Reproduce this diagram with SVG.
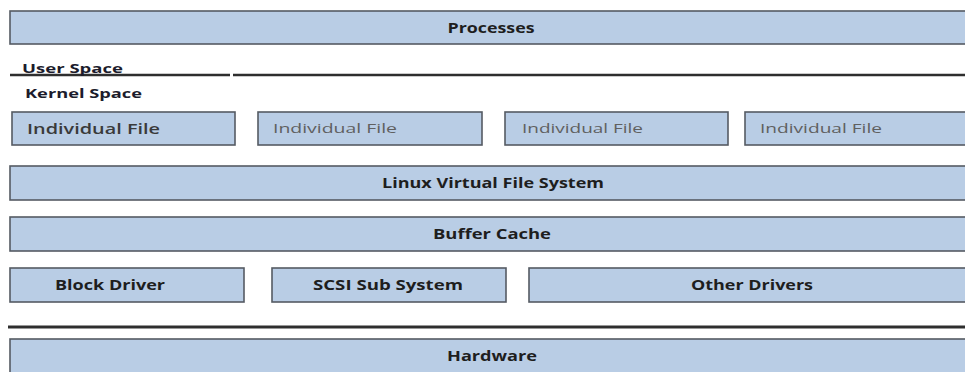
<svg xmlns="http://www.w3.org/2000/svg" width="965" height="372" viewBox="0 0 965 372">
  <defs>
    <style>
      .box { fill: #b9cde5; stroke: #555b63; stroke-width: 1.6; }
      .b { font-family: "Open Sans", "Liberation Sans", sans-serif; font-weight: bold; font-size: 14px; fill: #1e1e1e; text-anchor: middle; }
      .lbl { font-family: "Open Sans", "Liberation Sans", sans-serif; font-weight: bold; font-size: 13px; fill: #1c1c2c; }
      .f1 { font-family: "Open Sans", "Liberation Sans", sans-serif; font-size: 14.5px; fill: #3a3a3a; font-weight: 600; }
      .f2 { font-family: "Open Sans", "Liberation Sans", sans-serif; font-size: 13px; fill: #606060; }
      .sep { stroke: #2e2e2e; stroke-width: 2.5; fill: none; }
    </style>
  </defs>
  <rect width="965" height="372" fill="#ffffff"/>

  <g id="processes">
    <rect class="box" x="10" y="11" width="962" height="33"/>
    <text class="b" x="491" y="33" textLength="87" lengthAdjust="spacingAndGlyphs">Processes</text>
  </g>

  <g id="separators">
    <line class="sep" x1="10" y1="75" x2="230" y2="75"/>
    <line class="sep" x1="233" y1="75" x2="967" y2="75"/>
    <line class="sep" x1="8" y1="327" x2="967" y2="327" style="stroke-width:3"/>
  </g>

  <g id="user-space">
    <text class="lbl" x="22" y="73" textLength="101" lengthAdjust="spacingAndGlyphs">User Space</text>
  </g>
  <g id="kernel-space">
    <text class="lbl" x="25" y="98" textLength="117" lengthAdjust="spacingAndGlyphs">Kernel Space</text>
  </g>

  <g id="file1">
    <rect class="box" x="12" y="112" width="223" height="33"/>
    <text class="f1" x="27" y="134" textLength="133" lengthAdjust="spacingAndGlyphs">Individual File</text>
  </g>
  <g id="file2">
    <rect class="box" x="258" y="112" width="224" height="33"/>
    <text class="f2" x="273" y="133" textLength="124" lengthAdjust="spacingAndGlyphs">Individual File</text>
  </g>
  <g id="file3">
    <rect class="box" x="505" y="112" width="223" height="33"/>
    <text class="f2" x="522" y="133" textLength="121" lengthAdjust="spacingAndGlyphs">Individual File</text>
  </g>
  <g id="file4">
    <rect class="box" x="745" y="112" width="225" height="33"/>
    <text class="f2" x="760" y="133" textLength="122" lengthAdjust="spacingAndGlyphs">Individual File</text>
  </g>

  <g id="vfs">
    <rect class="box" x="10" y="166" width="962" height="34"/>
    <text class="b" x="493" y="188" textLength="222" lengthAdjust="spacingAndGlyphs">Linux Virtual File System</text>
  </g>

  <g id="buffer-cache">
    <rect class="box" x="10" y="217" width="962" height="34"/>
    <text class="b" x="492" y="239" textLength="118" lengthAdjust="spacingAndGlyphs">Buffer Cache</text>
  </g>

  <g id="block-driver">
    <rect class="box" x="10" y="268" width="234" height="34"/>
    <text class="b" x="110" y="290" textLength="110" lengthAdjust="spacingAndGlyphs">Block Driver</text>
  </g>
  <g id="scsi">
    <rect class="box" x="272" y="268" width="234" height="34"/>
    <text class="b" x="388" y="290" textLength="150" lengthAdjust="spacingAndGlyphs">SCSI Sub System</text>
  </g>
  <g id="other-drivers">
    <rect class="box" x="529" y="268" width="443" height="34"/>
    <text class="b" x="752" y="290" textLength="122" lengthAdjust="spacingAndGlyphs">Other Drivers</text>
  </g>

  <g id="hardware">
    <rect class="box" x="10" y="339" width="962" height="40"/>
    <text class="b" x="492" y="361" textLength="90" lengthAdjust="spacingAndGlyphs">Hardware</text>
  </g>
</svg>
